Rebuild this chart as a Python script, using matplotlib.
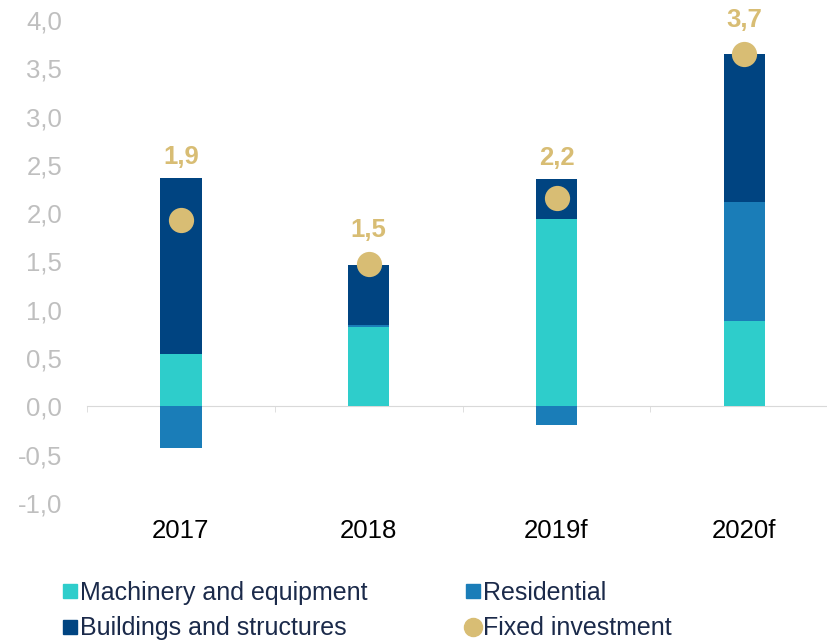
import numpy as np
import matplotlib.pyplot as plt
from matplotlib.lines import Line2D

plt.rcParams['font.family'] = ['Liberation Sans', 'DejaVu Sans']

# data
years = ['2017', '2018', '2019f', '2020f']
machinery = [0.54, 0.82, 1.94, 0.88]
residential = [-0.43, 0.02, -0.19, 1.24]
buildings = [1.82, 0.62, 0.41, 1.53]
fixed_inv = [1.93, 1.47, 2.16, 3.65]
fixed_labels = ['1,9', '1,5', '2,2', '3,7']

c_mach = '#2ECDCB'
c_res = '#1A7DB8'
c_bld = '#004481'
c_gold = '#D8BD74'
c_text = '#1B2A4A'

x = np.arange(len(years))
mach = np.array(machinery)
res = np.array(residential)
bld = np.array(buildings)

fig = plt.figure(figsize=(8.27, 6.42), dpi=100)
ax = fig.add_axes([87 / 827, 139 / 642, 740 / 827, 483 / 642])

w = 0.22
# positive parts stack upward from 0, negative residential hangs below
res_bottom = np.where(res >= 0, mach, 0)
bld_bottom = mach + np.where(res >= 0, res, 0)
ax.bar(x, mach, w, color=c_mach, zorder=2)
ax.bar(x, res, w, bottom=res_bottom, color=c_res, zorder=2)
ax.bar(x, bld, w, bottom=bld_bottom, color=c_bld, zorder=2)
ax.scatter(x, fixed_inv, s=330, color=c_gold, zorder=4, linewidths=0)

# value labels above the stacks
tops = bld_bottom + bld
for xi, top, dot, lab in zip(x, tops, fixed_inv, fixed_labels):
    off = 21 if top - dot > 0.15 else 34
    ref = max(top, dot)
    ax.annotate(lab, (xi, ref), xytext=(0, off * 0.72), textcoords='offset points',
                ha='center', va='center', fontsize=18.5, fontweight='bold', color=c_gold)

ax.set_ylim(-1.0, 4.0)
ax.set_xlim(-0.5, 3.44)
ax.set_yticks(np.arange(-1.0, 4.01, 0.5))
ax.set_yticklabels([f'{v:.1f}'.replace('.', ',') for v in np.arange(-1.0, 4.01, 0.5)])

for s in ['top', 'right', 'left']:
    ax.spines[s].set_visible(False)
ax.spines['bottom'].set_position(('data', 0))
ax.spines['bottom'].set_color('#D9D9D9')
ax.spines['bottom'].set_zorder(1)

ax.set_xticks(x)
ax.set_xticklabels(years)
ax.set_xticks(np.arange(-0.5, len(years) - 0.5, 1.0), minor=True)
ax.tick_params(axis='x', which='major', length=0, pad=81, labelsize=18.5, labelcolor='black')
ax.tick_params(axis='x', which='minor', length=4.5, color='#D9D9D9')
ax.tick_params(axis='y', length=0, pad=18, labelsize=18.5, labelcolor='#BFBFBF')

handles = [
    Line2D([], [], marker='s', linestyle='none', markersize=10, color=c_mach),
    Line2D([], [], marker='s', linestyle='none', markersize=10, color=c_bld),
    Line2D([], [], marker='s', linestyle='none', markersize=10, color=c_res),
    Line2D([], [], marker='o', linestyle='none', markersize=13, color=c_gold),
]
labels = ['Machinery and equipment', 'Buildings and structures', 'Residential', 'Fixed investment']
fig.legend(handles, labels, loc='upper left', bbox_to_anchor=(62 / 827, 1 - 581 / 642),
           ncol=2, frameon=False, fontsize=18, handlelength=0.6, handletextpad=0.12,
           columnspacing=3.9, labelspacing=0.45, labelcolor=c_text, borderpad=0,
           borderaxespad=0)

fig.savefig('out.png', dpi=100)
